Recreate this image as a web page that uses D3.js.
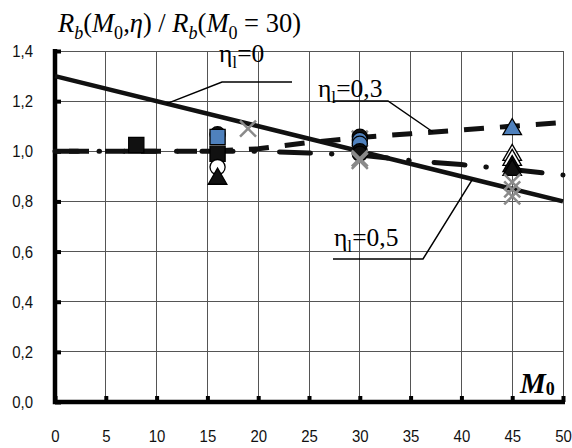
<!DOCTYPE html>
<html><head><meta charset="utf-8">
<script src="https://cdn.jsdelivr.net/npm/d3@7"></script>
<style>body{margin:0;background:#fff}svg{display:block}</style>
</head><body>
<svg id="chart" width="572" height="448"></svg>
<script>
// Axis ticks and labels
const xTicks = [0, 5, 10, 15, 20, 25, 30, 35, 40, 45, 50];
const yTicks = [0, 0.2, 0.4, 0.6, 0.8, 1.0, 1.2, 1.4];
const yTickLabels = ["0,0", "0,2", "0,4", "0,6", "0,8", "1,0", "1,2", "1,4"];

// Model curves R_b(M0, eta) / R_b(M0 = 30)
const eta0M = [0, 50];
const eta0R = [1.3, 0.8];
const eta03M = [0, 10, 15, 20, 25, 30, 35, 40, 45, 50];
const eta03R = [1.0, 1.0, 1.0, 1.01, 1.035, 1.055, 1.07, 1.085, 1.1, 1.115];
const eta05M = [0, 10, 20, 25, 30, 35, 40, 45, 50];
const eta05R = [1.0, 1.0, 1.0, 0.993, 0.985, 0.963, 0.947, 0.927, 0.905];

// Measured points
const pointM = [8, 16, 16, 16, 16, 16, 19, 30, 30, 30, 30, 30, 30, 30, 30, 45, 45, 45, 45, 45, 45, 45, 45];
const pointR = [1.025, 1.068, 1.057, 0.99, 0.937, 0.89, 1.09, 1.05, 1.058, 1.045, 1.03, 1.0, 0.99, 0.972, 0.962, 1.088, 0.985, 0.965, 0.94, 0.925, 0.877, 0.848, 0.82];
const pointShape = ["square", "circle", "square", "square", "circle", "triangle", "cross", "cross", "circle", "circle", "circle", "circle", "circle", "cross", "cross", "triangle", "triangle", "triangle", "triangle", "triangle", "cross", "cross", "cross"];
const pointFill = ["black", "black", "blue", "black", "white", "black", "gray", "gray", "black", "blue", "blue", "black", "black", "gray", "gray", "blue", "white", "white", "black", "black", "gray", "gray", "gray"];

const SERIF = '"Liberation Serif"';
const SANS = '"Liberation Sans"';

const svg = d3.select("#chart");
const x = d3.scaleLinear().domain([0, 50]).range([55, 563]);
const y = d3.scaleLinear().domain([0, 1.4]).range([402, 51]);
const colors = { black: "#111", blue: "#4f81bd", white: "#fff", gray: "#8a8a8a" };

// grid
const grid = svg.append("g").attr("stroke", "#555").attr("stroke-width", 1).attr("shape-rendering", "crispEdges");
grid.selectAll("line.v").data(xTicks.slice(1)).join("line").attr("class", "v")
  .attr("x1", d => x(d)).attr("x2", d => x(d)).attr("y1", y(1.4)).attr("y2", y(0));
grid.selectAll("line.h").data(yTicks.slice(1)).join("line").attr("class", "h")
  .attr("x1", x(0)).attr("x2", x(50)).attr("y1", d => y(d)).attr("y2", d => y(d));

// axes
const yAxis = d3.axisLeft(y).tickValues(yTicks).tickSizeInner(-6).tickSizeOuter(0).tickPadding(22)
  .tickFormat((d, i) => yTickLabels[i]);
const gy = svg.append("g").attr("transform", `translate(${x(0)},0)`).call(yAxis);
const xAxis = d3.axisBottom(x).tickValues(xTicks).tickSizeInner(-6).tickSizeOuter(0).tickPadding(28);
const gx = svg.append("g").attr("transform", `translate(0,${y(0)})`).call(xAxis);
[gx, gy].forEach(g => {
  g.select(".domain").remove();
  g.selectAll(".tick line").attr("stroke", "#000").attr("stroke-width", 4);
  g.selectAll(".tick text").attr("fill", "#111")
    .style("font-family", SANS).style("font-size", "17px");
});
gy.selectAll(".tick text").attr("transform", "scale(0.88,1)").attr("x", -22 / 0.88);
gx.selectAll(".tick text").attr("transform", "scale(0.88,1)");
svg.append("path")
  .attr("d", `M${x(0)},${y(1.4) - 2}V${y(0)}H${x(50) + 2}`)
  .attr("fill", "none").attr("stroke", "#000").attr("stroke-width", 4.5);

// curves
const line = d3.line().x(d => x(d[0])).y(d => y(d[1]));
const zip = (a, b) => a.map((v, i) => [v, b[i]]);
svg.append("path").datum(zip(eta05M, eta05R)).attr("d", line)
  .attr("fill", "none").attr("stroke", "#111").attr("stroke-width", 5)
  .attr("stroke-linecap", "round").attr("stroke-dasharray", "31,21,0.5,25").attr("stroke-dashoffset", 8);
svg.append("path").datum(zip(eta03M, eta03R)).attr("d", line)
  .attr("fill", "none").attr("stroke", "#111").attr("stroke-width", 5)
  .attr("stroke-dasharray", "20,16").attr("stroke-dashoffset", 22);
svg.append("path").datum(zip(eta0M, eta0R)).attr("d", line)
  .attr("fill", "none").attr("stroke", "#111").attr("stroke-width", 4.5);

// points
const sym = {
  square: d3.symbol(d3.symbolSquare, 230)(),
  circle: d3.symbol(d3.symbolCircle, 180)(),
  triangle: d3.symbol(d3.symbolTriangle, 150)(),
  cross: "M-8,-8L8,8M-8,8L8,-8"
};
const pts = pointM.map((m, i) => ({ m, r: pointR[i], s: pointShape[i], f: pointFill[i] }));
svg.append("g").selectAll("path").data(pts).join("path")
  .attr("transform", d => `translate(${x(d.m)},${y(d.r)})`)
  .attr("d", d => sym[d.s])
  .attr("fill", d => d.s === "cross" ? "none" : colors[d.f])
  .attr("stroke", d => d.s === "cross" ? colors.gray : "#000")
  .attr("stroke-width", d => d.s === "cross" ? 2.5 : 1.3);

// rich text helper: parts = [text, italic, sub]
function rich(px, py, size, parts) {
  const t = svg.append("text").attr("x", px).attr("y", py)
    .style("font-family", SERIF).style("font-size", size + "px").attr("fill", "#000");
  let shifted = 0;
  parts.forEach(([txt, it, sub]) => {
    const target = sub ? size * 0.25 : 0;
    t.append("tspan").text(txt)
      .style("font-style", it ? "italic" : "normal")
      .style("font-size", (sub ? size * 0.68 : size) + "px")
      .attr("dy", target - shifted);
    shifted = target;
  });
  return t;
}

rich(58, 32, 26.5, [["R", 1], ["b", 1, 1], ["(", 0], ["M", 1], ["0", 0, 1], [",", 0], ["η", 1], [")", 0],
  [" / ", 0], ["R", 1], ["b", 1, 1], ["(", 0], ["M", 1], ["0", 0, 1], [" = 30)", 0]]);

// curve labels with leaders
const leader = pts2 => svg.append("path").attr("d", d3.line()(pts2))
  .attr("fill", "none").attr("stroke", "#000").attr("stroke-width", 1.5);
rich(219, 62, 25.5, [["η", 0], ["l", 0, 1], ["=0", 0]]);
leader([[292, 82], [222, 82], [x(11), y(1.19)]]);
rich(318, 97, 25.5, [["η", 0], ["l", 0, 1], ["=0,3", 0]]);
leader([[333, 101], [388, 101], [433, 132]]);
rich(334, 246, 25.5, [["η", 0], ["l", 0, 1], ["=0,5", 0]]);
leader([[333, 259], [423, 259], [x(41.1), y(0.889)]]);

// axis title
svg.append("text").attr("x", 520).attr("y", 393)
  .style("font-family", SERIF).style("font-size", "29px").style("font-weight", "bold").style("font-style", "italic")
  .text("M")
  .append("tspan").style("font-size", "18px").style("font-style", "normal").attr("dy", 2).text("0");
</script>
</body></html>
